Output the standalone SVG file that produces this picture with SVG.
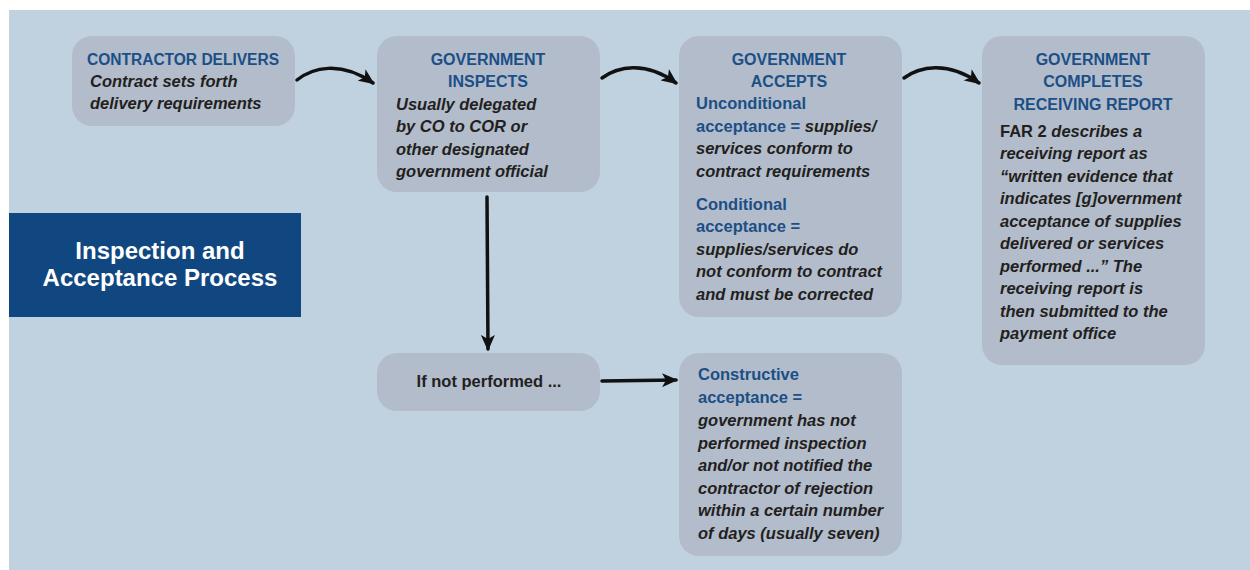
<svg xmlns="http://www.w3.org/2000/svg" width="1250" height="570" viewBox="0 0 1250 570">
<defs>
<style>
.bg{fill:#c0d1e0}
.node{fill:#b2bccb}
.hd{font-family:"Liberation Sans",Arial,sans-serif;font-weight:bold;font-size:16px;fill:#1b4f86}
.hb{font-family:"Liberation Sans",Arial,sans-serif;font-weight:bold;font-size:16.5px;fill:#1b4f86}
.bd{font-family:"Liberation Sans",Arial,sans-serif;font-weight:bold;font-style:italic;font-size:16.5px;fill:#231f20}
.up{font-style:normal}
.pl{font-family:"Liberation Sans",Arial,sans-serif;font-weight:bold;font-size:16.5px;fill:#231f20}
.ttl{font-family:"Liberation Sans",Arial,sans-serif;font-weight:bold;font-size:24px;fill:#ffffff}
.con{fill:none;stroke:#111111;stroke-width:3.5;stroke-linecap:round}
</style>
<marker id="ah" viewBox="0 0 16 14" refX="14" refY="7" markerWidth="16" markerHeight="14" markerUnits="userSpaceOnUse" orient="auto">
<path d="M0,0 L16,7 L0,14 L4,7 Z" fill="#111111"/>
</marker>
</defs>
<rect class="bg" x="9" y="10" width="1241" height="560"/>

<g id="title">
<rect x="9" y="213" width="292" height="104" fill="#114780"/>
<text class="ttl" x="160" y="259" text-anchor="middle">Inspection and</text>
<text class="ttl" x="160" y="286" text-anchor="middle">Acceptance Process</text>
</g>

<g id="contractor-delivers">
<rect class="node" x="72" y="36" width="223" height="90" rx="20"/>
<text class="hd" x="87" y="65" textLength="192" lengthAdjust="spacingAndGlyphs">CONTRACTOR DELIVERS</text>
<text class="bd" x="90" y="87">Contract sets forth</text>
<text class="bd" x="90" y="109">delivery requirements</text>
</g>

<g id="government-inspects">
<rect class="node" x="377" y="36" width="223" height="156" rx="20"/>
<text class="hd" x="488" y="65" text-anchor="middle">GOVERNMENT</text>
<text class="hd" x="488" y="87" text-anchor="middle">INSPECTS</text>
<text class="bd" x="396" y="110">Usually delegated</text>
<text class="bd" x="396" y="132">by CO to COR or</text>
<text class="bd" x="396" y="155">other designated</text>
<text class="bd" x="396" y="177">government official</text>
</g>

<g id="government-accepts">
<rect class="node" x="679" y="36" width="223" height="281" rx="20"/>
<text class="hd" x="789" y="65" text-anchor="middle">GOVERNMENT</text>
<text class="hd" x="789" y="87" text-anchor="middle">ACCEPTS</text>
<text class="hb" x="696" y="109">Unconditional</text>
<text class="hb" x="696" y="132">acceptance = <tspan class="bd">supplies/</tspan></text>
<text class="bd" x="696" y="154">services conform to</text>
<text class="bd" x="696" y="177">contract requirements</text>
<text class="hb" x="696" y="210">Conditional</text>
<text class="hb" x="696" y="232">acceptance =</text>
<text class="bd" x="696" y="255">supplies/services do</text>
<text class="bd" x="696" y="277">not conform to contract</text>
<text class="bd" x="696" y="300">and must be corrected</text>
</g>

<g id="receiving-report">
<rect class="node" x="982" y="36" width="223" height="329" rx="20"/>
<text class="hd" x="1093" y="65" text-anchor="middle">GOVERNMENT</text>
<text class="hd" x="1093" y="87" text-anchor="middle">COMPLETES</text>
<text class="hd" x="1093" y="110" text-anchor="middle">RECEIVING REPORT</text>
<text class="bd" x="1000" y="137"><tspan class="up">FAR 2</tspan> describes a</text>
<text class="bd" x="1000" y="159">receiving report as</text>
<text class="bd" x="1000" y="182">“written evidence that</text>
<text class="bd" x="1000" y="204">indicates [g]overnment</text>
<text class="bd" x="1000" y="227">acceptance of supplies</text>
<text class="bd" x="1000" y="249">delivered or services</text>
<text class="bd" x="1000" y="272">performed ...” The</text>
<text class="bd" x="1000" y="294">receiving report is</text>
<text class="bd" x="1000" y="317">then submitted to the</text>
<text class="bd" x="1000" y="339">payment office</text>
</g>

<g id="if-not-performed">
<rect class="node" x="377" y="353" width="223" height="58" rx="20"/>
<text class="pl" x="489" y="387" text-anchor="middle">If not performed ...</text>
</g>

<g id="constructive-acceptance">
<rect class="node" x="679" y="353" width="223" height="203" rx="20"/>
<text class="hb" x="698" y="380">Constructive</text>
<text class="hb" x="698" y="403">acceptance =</text>
<text class="bd" x="698" y="426">government has not</text>
<text class="bd" x="698" y="449">performed inspection</text>
<text class="bd" x="698" y="471">and/or not notified the</text>
<text class="bd" x="698" y="494">contractor of rejection</text>
<text class="bd" x="698" y="516">within a certain number</text>
<text class="bd" x="698" y="539">of days (usually seven)</text>
</g>

<g id="connectors">
<path class="con" d="M297,80 C312,68 340,60 373,83" marker-end="url(#ah)"/>
<path class="con" d="M602,78 C617,67 645,60 676,83" marker-end="url(#ah)"/>
<path class="con" d="M904,78 C919,67 947,60 979,83" marker-end="url(#ah)"/>
<path class="con" d="M487,197 L488,349" marker-end="url(#ah)"/>
<path class="con" d="M602,381 L676,380" marker-end="url(#ah)"/>
</g>
</svg>
